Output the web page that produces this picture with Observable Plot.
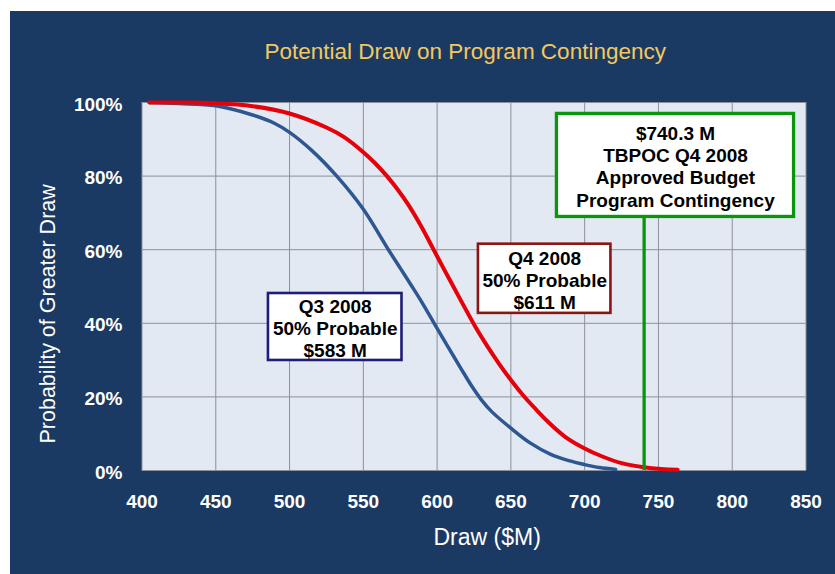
<!DOCTYPE html>
<html><head><meta charset="utf-8">
<script src="https://cdn.jsdelivr.net/npm/d3@7"></script>
<script src="https://cdn.jsdelivr.net/npm/@observablehq/plot@0.6"></script>
<style>
html,body{margin:0;padding:0;background:#fff;}
#wrap{position:relative;width:835px;height:574px;overflow:hidden;}
#panel{position:absolute;left:10px;top:11px;right:0;bottom:0;background:#1B3A63;}
#chart{position:absolute;left:0;top:0;}
</style></head><body>
<div id="wrap"><div id="panel"></div><div id="chart"></div></div>
<script>
// Series: Q3 2008 (blue) and Q4 2008 (red) — probability of greater draw (%)
const q3Draw = [405,425,450,475,490,500,515,532,550,567,575,583,590,598,605,612,618,624,630,637,650,663,677,690,700,710,721];
const q3Prob = [100,99.7,99.1,96.6,94.3,91.9,87,80,71,60,55,50,45.5,40,35.2,30.5,26.5,22.6,19.2,16,11.5,7.5,4.4,2.6,1.6,0.8,0.3];
const q4Draw = [405,425,450,475,500,525,537,550,558,566,573,580,589,597,604,611,618,626,634,642,650,659,667,675,687,700,712,725,740,752,763];
const q4Prob = [100,100,99.8,99,97,93.2,90.6,86.5,83.5,80,76.5,72.5,66.5,60.5,55.2,50,44.8,39,33.8,29,24.6,20.1,16.6,13.3,9.1,6,3.8,2,0.9,0.4,0.2];

// Axis ticks
const xTicks = [400,450,500,550,600,650,700,750,800,850];
const yTicks = [0,20,40,60,80,100];

// Annotations
const titleText = "Potential Draw on Program Contingency";
const xLabel = "Draw ($M)";
const yLabel = "Probability of Greater Draw";
const budget = 740.3;
const noteLabels = ["Q3 2008\n50% Probable\n$583 M", "Q4 2008\n50% Probable\n$611 M", "$740.3 M\nTBPOC Q4 2008\nApproved Budget\nProgram Contingency"];
const noteX1 = [485.7, 628.0, 681.2];
const noteX2 = [576.2, 717.8, 841.9];
const noteTop = [48.1, 61.5, 96.9];
const noteBottom = [29.9, 42.7, 68.9];
const noteColors = ["#1E1E78", "#8B1515", "#0A960A"];

const q3 = q3Draw.map((d,i)=>({draw:d, prob:q3Prob[i]}));
const q4 = q4Draw.map((d,i)=>({draw:d, prob:q4Prob[i]}));
const notes = noteLabels.map((t,i)=>({text:t, x1:noteX1[i], x2:noteX2[i], y1:noteTop[i], y2:noteBottom[i], color:noteColors[i], xm:(noteX1[i]+noteX2[i])/2, ym:(noteTop[i]+noteBottom[i])/2}));

const font = "Liberation Sans, Arial, Helvetica, sans-serif";

const chart = Plot.plot({
  width: 835, height: 574,
  marginLeft: 141.5, marginRight: 29.5, marginTop: 102, marginBottom: 104,
  style: {background: "transparent", fontFamily: font},
  x: {domain: [400, 850]},
  y: {domain: [0, 100]},
  marks: [
    Plot.frame({fill: "#E2E9F3", stroke: null}),
    Plot.gridX(xTicks, {stroke: "#8C9099", strokeOpacity: 1, strokeWidth: 1}),
    Plot.gridY(yTicks, {stroke: "#8C9099", strokeOpacity: 1, strokeWidth: 1}),
    Plot.axisX({ticks: xTicks, tickSize: 0, tickPadding: 24, fontSize: 19, fontWeight: "bold", fill: "white", color: "white", label: null}),
    Plot.axisY({ticks: yTicks, tickFormat: d => d + "%", tickSize: 0, tickPadding: 19.5, fontSize: 19, fontWeight: "bold", fill: "white", color: "white", label: null, dy: 2}),
    Plot.line(q3, {x: "draw", y: "prob", stroke: "#2E5690", strokeWidth: 3.5, curve: "catmull-rom"}),
    Plot.line(q4, {x: "draw", y: "prob", stroke: "#E5000A", strokeWidth: 4, curve: "catmull-rom"}),
    Plot.ruleX([budget], {x: d => d, y1: 0, y2: noteBottom[2], stroke: "#0A960A", strokeWidth: 3.3}),
    Plot.rect(notes, {x1: "x1", x2: "x2", y1: "y1", y2: "y2", fill: "white", stroke: "color", strokeWidth: (d,i) => i === 2 ? 3.3 : 2.6}),
    Plot.text(notes, {x: "xm", y: "ym", text: "text", fontSize: 19, fontWeight: "bold", fill: "black", lineHeight: 1.16, textAnchor: "middle", lineAnchor: "middle", dy: 1}),
    Plot.text([titleText], {frameAnchor: "top", dx: -209.5, dy: -51, textAnchor: "start", lineAnchor: "middle", fontSize: 22.5, fill: "#F3C95E", ariaLabel: "title-text"}),
    Plot.text([xLabel], {frameAnchor: "bottom", dx: -40.5, dy: 67, textAnchor: "start", lineAnchor: "middle", fontSize: 23, fill: "white", ariaLabel: "xlabel-text"}),
    Plot.text([yLabel], {frameAnchor: "left", dx: -93.5, dy: 157, rotate: -90, textAnchor: "start", lineAnchor: "middle", fontSize: 21.5, fill: "white", ariaLabel: "ylabel-text"})
  ]
});
document.getElementById("chart").appendChild(chart);
const fit = (label, len) => {
  d3.select(chart).selectAll(`g[aria-label="${label}"] text`).attr("textLength", len).attr("lengthAdjust", "spacingAndGlyphs");
};
fit("title-text", 441);
fit("xlabel-text", 110);
fit("ylabel-text", 300);
</script>
</body></html>
